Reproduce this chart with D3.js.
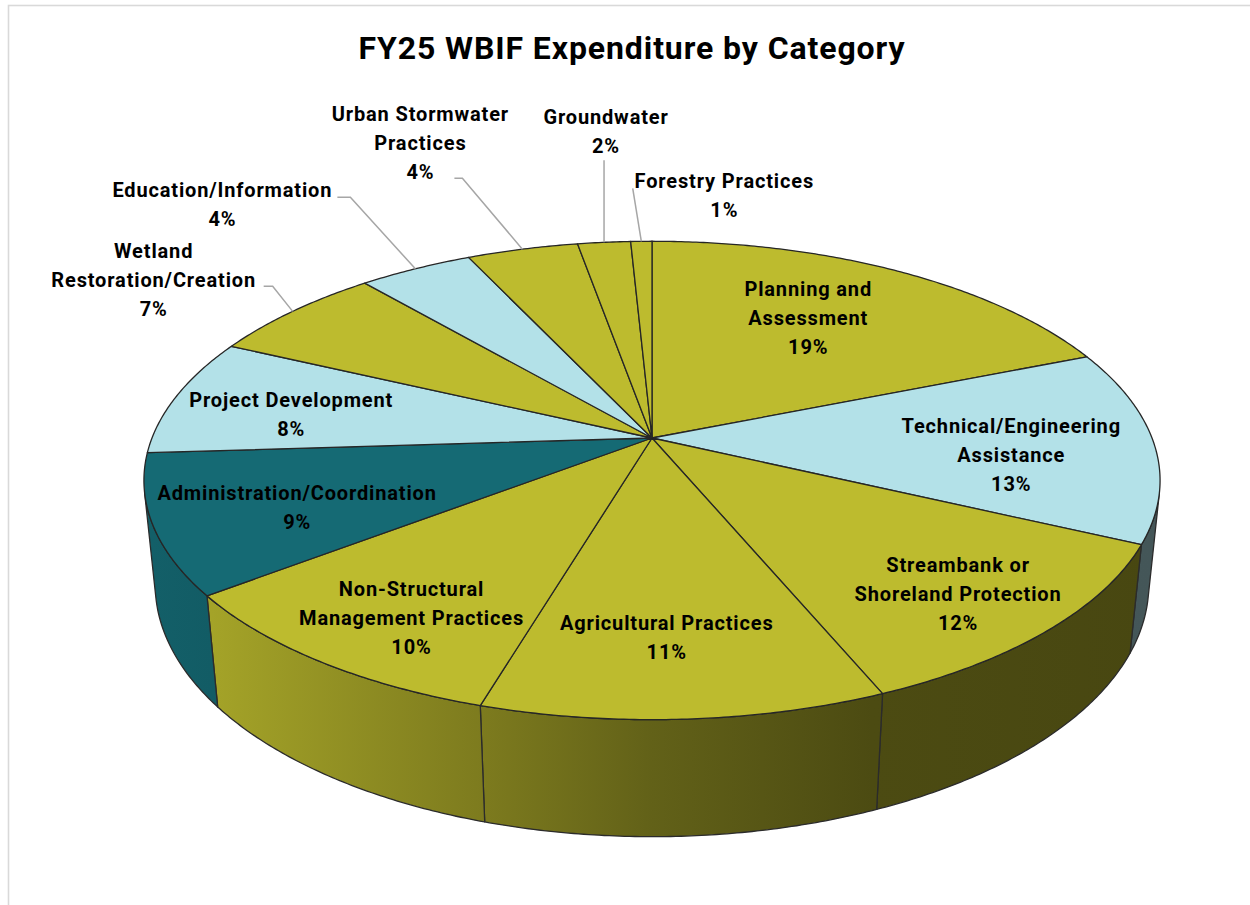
<!DOCTYPE html>
<html>
<head>
<meta charset="utf-8">
<script src="https://cdn.jsdelivr.net/npm/d3@7"></script>
<style>
    body { margin: 0; background: #fff; }
    svg { display: block; }
    text { font-family: Roboto, "Noto Sans", sans-serif; font-weight: bold; fill: #000; }
</style>
</head>
<body>
<svg id="chart" width="1250" height="905"></svg>
<script>
var title = 'FY25 WBIF Expenditure by Category';

var categories = [
    'Planning and Assessment',
    'Technical/Engineering Assistance',
    'Streambank or Shoreland Protection',
    'Agricultural Practices',
    'Non-Structural Management Practices',
    'Administration/Coordination',
    'Project Development',
    'Wetland Restoration/Creation',
    'Education/Information',
    'Urban Stormwater Practices',
    'Groundwater',
    'Forestry Practices'
];
// share of FY25 spending, percent
var shares = [18.9, 13.1, 11.7, 10.9, 10.0, 9.4, 8.0, 6.7, 4.3, 4.2, 2.0, 0.8];

var sliceColors = ['#BDBB2E', '#B3E1E8', '#BDBB2E', '#BDBB2E', '#BDBB2E', '#156A74',
    '#B3E1E8', '#BDBB2E', '#B3E1E8', '#BDBB2E', '#BDBB2E', '#BDBB2E'];

// label placement: words before the line break, then either inside (r, dphi)
// or outside (offset of the text block and leader elbow from the rim point)
var labelLayout = [
    {br: 2, r: 0.668, dphi: -3},
    {br: 1, r: 0.713, dphi: 4.2},
    {br: 2, r: 0.812, dphi: 1.4},
    {br: 0, r: 0.748, dphi: 1.1},
    {br: 1, r: 0.803, dphi: -2.8},
    {br: 0, r: 0.732, dphi: -2.5},
    {br: 0, r: 0.742, dphi: -2.8},
    {br: 1, out: [-139, -31.5], elbow: [-20, -25], tail: -9},
    {br: 0, out: [-193, -64], elbow: [-65, -71.5], tail: -13},
    {br: 2, out: [-102, -106], elbow: [-60, -71], tail: -8},
    {br: 0, out: [2, -110.5], elbow: [0, -82], tail: 0},
    {br: 0, out: [83, -45.5], elbow: [-8.6, -53], tail: 0}
];

/* 3D geometry of the pie */
var cx = 652, cy = 438;
var W = 500;                       // projected radius, px
var tilt = 27.6 * Math.PI / 180;   // elevation of the view
var rd = 0.2003;                   // radius / camera distance
var thick = 0.237;                 // height / radius
var cosT = Math.cos(tilt), sinT = Math.sin(tilt);
var lineH = 29;

function project(phi, r, y) {
    var X = r * Math.sin(phi), Z = -r * Math.cos(phi);
    var up = y * cosT - Z * sinT;
    var depth = Z * cosT + y * sinT;
    var w = 1 - rd * depth;
    return [cx + W * X / w, cy - W * up / w];
}

function arcPoints(a0, a1, r, y) {
    var n = Math.max(2, Math.ceil((a1 - a0) / (0.5 * Math.PI / 180)));
    return d3.range(n + 1).map(function(i) {
        return project(a0 + (a1 - a0) * i / n, r, y);
    });
}

var line = d3.line();
var pie = d3.pie().sort(null).value(function(d) { return d; });
var arcs = pie(shares);
var total = d3.sum(shares);

var svg = d3.select('#chart');
svg.append('rect')
    .attr('x', 8.5).attr('y', 5.5)
    .attr('width', 1300).attr('height', 950)
    .attr('fill', '#fff')
    .attr('stroke', '#d9d9d9')
    .attr('stroke-width', 1.6);

svg.append('text')
    .attr('x', 632).attr('y', 59)
    .attr('text-anchor', 'middle')
    .style('font-size', '32px')
    .style('letter-spacing', '0.9px')
    .text(title);

/* side shading, darker towards the right */
var shadeStops = [[0, 0.9], [0.06, 0.87], [0.33, 0.66], [0.5, 0.52], [0.72, 0.4], [1, 0.38]];
var defs = svg.append('defs');
sliceColors.forEach(function(col, i) {
    var g = defs.append('linearGradient')
        .attr('id', 'side' + i)
        .attr('gradientUnits', 'userSpaceOnUse')
        .attr('x1', cx - W).attr('x2', cx + W)
        .attr('y1', 0).attr('y2', 0);
    var base = d3.rgb(col);
    shadeStops.forEach(function(s) {
        g.append('stop')
            .attr('offset', s[0])
            .attr('stop-color', d3.rgb(base.r * s[1], base.g * s[1], base.b * s[1]).formatHex());
    });
});

/* side walls */
var vis0 = Math.acos(-rd / cosT), vis1 = 2 * Math.PI - vis0;
svg.append('g').attr('class', 'walls')
    .selectAll('path')
    .data(arcs.filter(function(d) {
        return Math.min(d.endAngle, vis1) > Math.max(d.startAngle, vis0);
    }))
    .join('path')
    .attr('fill', function(d) { return 'url(#side' + d.index + ')'; })
    .attr('stroke', '#2b2b2b')
    .attr('stroke-width', 1.3)
    .attr('stroke-linejoin', 'round')
    .attr('d', function(d) {
        var a = Math.max(d.startAngle, vis0), b = Math.min(d.endAngle, vis1);
        var pts = arcPoints(a, b, 1, 0).concat(arcPoints(a, b, 1, -thick).reverse());
        return line(pts) + 'Z';
    });

/* top faces */
svg.append('g').attr('class', 'tops')
    .selectAll('path')
    .data(arcs)
    .join('path')
    .attr('fill', function(d) { return sliceColors[d.index]; })
    .attr('stroke', '#262626')
    .attr('stroke-width', 1.3)
    .attr('stroke-linejoin', 'round')
    .attr('d', function(d) {
        var pts = [project(0, 0, 0)].concat(arcPoints(d.startAngle, d.endAngle, 1, 0));
        return line(pts) + 'Z';
    });

/* labels */
var labels = svg.append('g').attr('class', 'labels');
arcs.forEach(function(d) {
    var lay = labelLayout[d.index];
    var mid = (d.startAngle + d.endAngle) / 2;
    var words = categories[d.index].split(' ');
    var lines = lay.br ? [words.slice(0, lay.br).join(' '), words.slice(lay.br).join(' ')] : [words.join(' ')];
    lines.push(Math.round(d.value / total * 100) + '%');

    var pos;
    if (lay.out) {
        var rim = project(mid, 1, 0);
        pos = [rim[0] + lay.out[0], rim[1] + lay.out[1]];
        var elbow = [rim[0] + lay.elbow[0], rim[1] + lay.elbow[1]];
        var pts = [rim, elbow];
        if (lay.tail) pts.push([elbow[0] + lay.tail, elbow[1]]);
        labels.append('path')
            .attr('d', line(pts))
            .attr('fill', 'none')
            .attr('stroke', '#a6a6a6')
            .attr('stroke-width', 1.5);
    } else {
        pos = project(mid + lay.dphi * Math.PI / 180, lay.r, 0);
    }

    var t = labels.append('text')
        .attr('text-anchor', 'middle')
        .style('font-size', '20px')
        .style('letter-spacing', '0.85px');
    lines.forEach(function(s, j) {
        t.append('tspan')
            .attr('x', pos[0])
            .attr('y', pos[1] + (j - (lines.length - 1) / 2) * lineH + 7)
            .text(s);
    });
});
</script>
</body>
</html>
